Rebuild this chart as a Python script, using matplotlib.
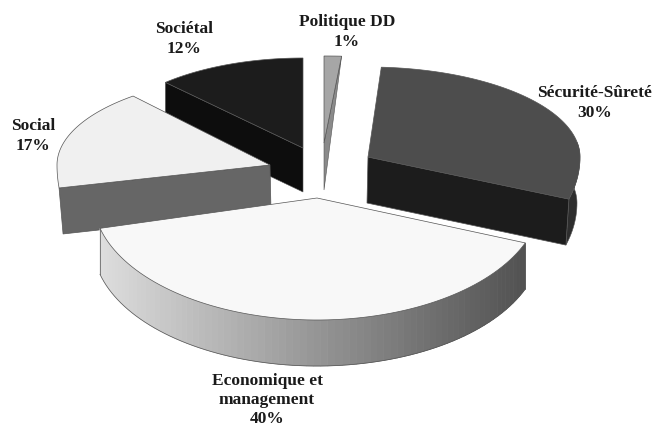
import numpy as np
import matplotlib
matplotlib.use("Agg")
import matplotlib.pyplot as plt

# Values of the pie, clockwise from the top
categories = ["Sécurité-Sûreté", "Economique et\nmanagement", "Social", "Sociétal", "Politique DD"]
shares = [30, 40, 17, 12, 1]

# Look of each slice: apex x, apex y, radius x, radius back, radius front
apex = [(368, 157), (317, 198), (270, 165), (303, 148), (324, 143)]
radii = [(212, 90, 132), (224, 108, 122), (213, 90, 165), (201, 90, 90), (280, 87, 87)]
# perspective of the original bends some edges a bit
start_tweak = [0, 0, 6.4, 0, 0]
end_tweak = [-3, 0, 3.2, 0, 0]
top_colors = ["#4d4d4d", "#f8f8f8", "#f0f0f0", "#1c1c1c", "#a6a6a6"]
side_colors = ["#1c1c1c", "#666666", "#666666", "#0d0d0d", "#8a8a8a"]
depth = 46
start = 3.6
edge = "#555555"

label_pos = [(595, 103), (267, 400), (33, 136), (184, 39), (347, 32)]


def arc(i, t0, t1):
    # points of the outer edge of slice i, angles in degrees clockwise from the top
    t = np.radians(np.linspace(t0, t1, 80))
    cx, cy = apex[i]
    rx, back, front = radii[i]
    ry = np.where(np.cos(t) > 0, back, front)
    return cx + rx * np.sin(t), cy - ry * np.cos(t)


fig = plt.figure(figsize=(6.54, 4.28), dpi=100)
ax = fig.add_axes([0, 0, 1, 1])
ax.set_xlim(0, 654)
ax.set_ylim(428, 0)
ax.axis("off")

# angles from the shares
edges = start + np.cumsum([0] + shares) * 3.6

# back to front
for z, i in enumerate([3, 4, 0, 2, 1]):
    z = z + 10
    t0, t1 = edges[i] + start_tweak[i], edges[i + 1] + end_tweak[i]
    cx, cy = apex[i]
    x, y = arc(i, t0, t1)

    if i == 1:
        # the big slice has a shaded rim, light on the left, dark on the right
        for k in range(len(x) - 1):
            frac = (x[k] - x.min()) / (x.max() - x.min())
            g = 0.87 - 0.55 * frac
            ax.fill([x[k], x[k + 1], x[k + 1], x[k]],
                    [y[k], y[k + 1], y[k + 1] + depth, y[k] + depth],
                    color=(g, g, g), lw=0.6, zorder=z)
        ax.plot(x, y + depth, color=edge, lw=0.5, zorder=z)
        ax.plot([x[0], x[0]], [y[0], y[0] + depth], color=edge, lw=0.5, zorder=z)
        ax.plot([x[-1], x[-1]], [y[-1], y[-1] + depth], color=edge, lw=0.5, zorder=z)
    elif i == 0:
        # rim bit first, then the radial face towards the viewer
        ax.fill(np.r_[x[58:], x[58:][::-1] - 3], np.r_[y[58:], y[58:][::-1] + depth],
                color="#2e2e2e", ec=edge, lw=0.4, zorder=z)
        ax.fill([cx, x[-1], x[-1] - 3, cx - 1], [cy, y[-1], y[-1] + depth, cy + depth],
                color=side_colors[i], ec=edge, lw=0.5, zorder=z)
    elif i == 2:
        ax.fill([cx, x[0], x[0] + 4, cx + 1], [cy, y[0], y[0] + depth, cy + depth],
                color=side_colors[i], ec=edge, lw=0.5, zorder=z)
    elif i == 3:
        ax.fill([cx, x[0], x[0], cx], [cy, y[0], y[0] + depth - 2, cy + depth - 2],
                color=side_colors[i], ec=edge, lw=0.4, zorder=z)
    elif i == 4:
        ax.fill([cx, x[-1], cx], [cy, y[-1], cy + depth + 1],
                color=side_colors[i], ec=edge, lw=0.4, zorder=z)

    ax.fill(np.r_[cx, x], np.r_[cy, y], facecolor=top_colors[i], edgecolor=edge,
            lw=0.5, zorder=z)

for name, share, (lx, ly) in zip(categories, shares, label_pos):
    ax.text(lx, ly, f"{name}\n{share}%", family="Liberation Serif", weight="bold",
            fontsize=12.5, color="#1a1a1a", ha="center", va="center", linespacing=1.28,
            zorder=30)

fig.savefig("out.png", dpi=100)
